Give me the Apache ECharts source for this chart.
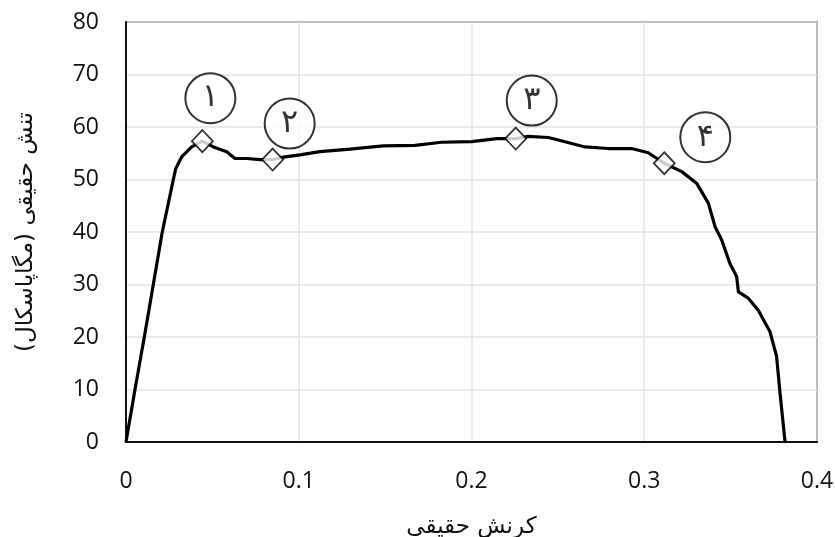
<!DOCTYPE html>
<html>
<head>
<meta charset="utf-8">
<script src="https://cdn.jsdelivr.net/npm/echarts@6/dist/echarts.min.js"></script>
<style>html,body{margin:0;padding:0;background:#fff;}#c{width:835px;height:537px;}</style>
</head>
<body>
<div id="c"></div>
<script>
// Curve: true strain vs true stress (MPa)
var strainValues = [0, 0.0052, 0.0106, 0.0158, 0.021, 0.0274, 0.0288, 0.0322, 0.038, 0.0442, 0.0506, 0.0583, 0.0631, 0.0699, 0.0776, 0.0849, 0.092, 0.1007, 0.1123, 0.1297, 0.1489, 0.1673, 0.1827, 0.2001, 0.2146, 0.2256, 0.2329, 0.2445, 0.2541, 0.2657, 0.2792, 0.2927, 0.3023, 0.3116, 0.3217, 0.3303, 0.3371, 0.341, 0.3448, 0.3496, 0.3535, 0.3545, 0.3602, 0.366, 0.3728, 0.3766, 0.3786, 0.3815];
var stressValues = [0, 10, 20, 30, 40, 50, 52.1, 54.3, 56.2, 57.3, 56.2, 55.3, 54.0, 54.0, 53.8, 53.8, 54.3, 54.7, 55.3, 55.8, 56.4, 56.5, 57.1, 57.2, 57.8, 57.8, 58.2, 58.0, 57.2, 56.2, 55.9, 55.9, 55.1, 53.1, 51.5, 49.3, 45.5, 41.0, 38.5, 34.0, 31.5, 28.6, 27.4, 25.1, 21.0, 16.3, 9.3, 0];
// Marked points
var markerStrain = [0.0442, 0.0849, 0.2256, 0.3116];
var markerStress = [57.3, 53.8, 57.8, 53.1];
var markerLabels = ['۱', '۲', '۳', '۴'];
// Axis ticks
var xTicks = [0, 0.1, 0.2, 0.3, 0.4];
var yTicks = [0, 10, 20, 30, 40, 50, 60, 70, 80];
var xTitle = 'کرنش حقیقی';
var yTitle = 'تنش حقیقی (مگاپاسکال)';

var calloutOffsets = [[8, -43], [17, -36], [16, -38], [41, -26]];

var curve = strainValues.map(function (x, i) { return [x, stressValues[i]]; });
var markers = markerStrain.map(function (x, i) { return [x, markerStress[i]]; });
var callouts = markerStrain.map(function (x, i) {
  return { value: [x, markerStress[i]], name: markerLabels[i], symbolOffset: calloutOffsets[i] };
});

var chart = echarts.init(document.getElementById('c'));
chart.setOption({
  animation: false,
  backgroundColor: '#fff',
  grid: { left: 126, right: 18, top: 22, bottom: 95, show: true, borderColor: '#111', borderWidth: 1.5,
          containLabel: false, outerBoundsMode: 'none' },
  xAxis: {
    type: 'value', min: xTicks[0], max: xTicks[xTicks.length - 1], interval: 0.1,
    name: xTitle, nameLocation: 'middle', nameGap: 74,
    nameTextStyle: { fontFamily: 'DejaVu Sans', fontSize: 23, color: '#111' },
    axisLine: { show: true, lineStyle: { color: '#111', width: 2 } },
    axisTick: { show: false },
    axisLabel: { margin: 28, fontSize: 23, color: '#111', fontFamily: 'Open Sans', formatter: function (v) { return String(+v.toFixed(1)); } },
    splitLine: { show: true, lineStyle: { color: '#e3e3e3', width: 1.5 } }
  },
  yAxis: {
    type: 'value', min: yTicks[0], max: yTicks[yTicks.length - 1], interval: 10,
    name: yTitle, nameLocation: 'middle', nameGap: 88, nameRotate: 90,
    nameTextStyle: { fontFamily: 'DejaVu Sans', fontSize: 23, color: '#111' },
    axisLine: { show: true, lineStyle: { color: '#111', width: 2 } },
    axisTick: { show: false },
    axisLabel: { margin: 27, fontSize: 23, color: '#111', fontFamily: 'Open Sans' },
    splitLine: { show: true, lineStyle: { color: '#e3e3e3', width: 1.5 } }
  },
  series: [
    {
      type: 'line', data: curve, showSymbol: false, symbol: 'none', smooth: false,
      lineStyle: { color: '#000', width: 3.2 }, z: 3
    },
    {
      type: 'scatter', data: markers, symbol: 'diamond', symbolSize: [21, 22],
      itemStyle: { color: '#fff', borderColor: '#000', borderWidth: 1.8 }, z: 5
    },
    {
      type: 'scatter', data: callouts, symbol: 'circle', symbolSize: 50,
      itemStyle: { color: '#fff', borderColor: '#000', borderWidth: 2 }, z: 6,
      label: { show: true, position: 'inside', formatter: function (p) { return p.name; },
        fontFamily: 'DejaVu Sans', fontSize: 32, color: '#000' }
    }
  ]
});
</script>
</body>
</html>
